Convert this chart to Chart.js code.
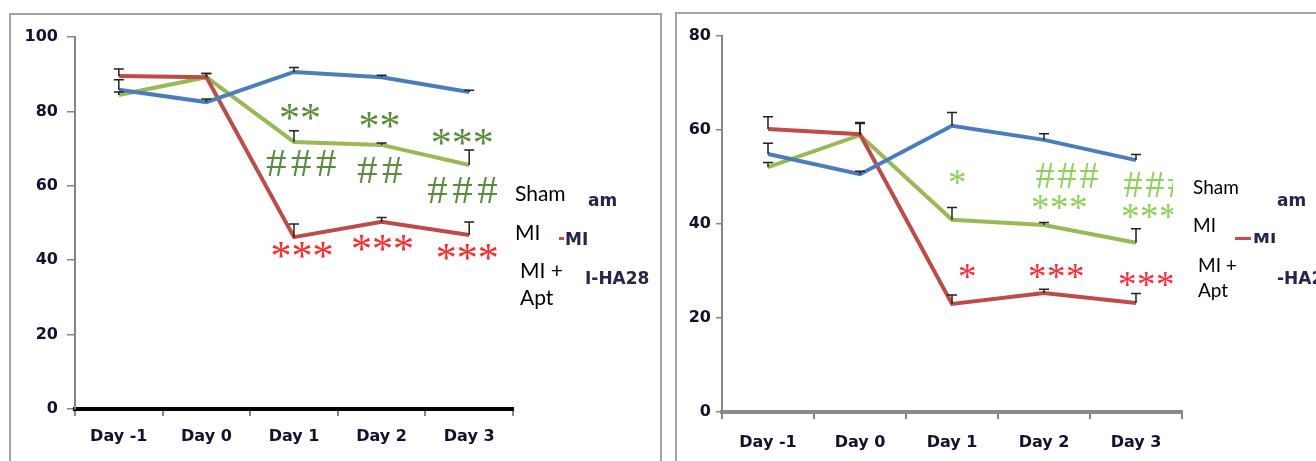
<!DOCTYPE html>
<html>
<head>
<meta charset="utf-8">
<script src="https://cdn.jsdelivr.net/npm/chart.js@4.4.0/dist/chart.umd.min.js"></script>
<style>
  body { margin: 0; background: #fff; width: 1316px; height: 461px; overflow: hidden; position: relative; }
  .panel { position: absolute; border: 2px solid #a3a3a3; border-bottom: none; }
  canvas { position: absolute; top: 0; }
  .lg { position: absolute; color: #000; font-family: Lato, sans-serif; white-space: nowrap; line-height: 1; }
  .frag { position: absolute; font-family: 'DejaVu Sans', sans-serif; font-weight: bold; font-size: 17px;
          color: #25254d; white-space: nowrap; line-height: 1; }
  .cover { position: absolute; background: #fff; }
</style>
</head>
<body>
<div class="panel" style="left:9px;top:13px;width:649px;height:470px;"></div>
<div class="panel" style="left:675px;top:12px;width:700px;height:470px;"></div>

<canvas id="left" width="660" height="461" style="left:0px;"></canvas>
<canvas id="right" width="656" height="461" style="left:660px;"></canvas>

<!-- left legend -->
<div class="lg" style="left:515px;top:182px;font-size:21px;">Sham</div>
<div class="lg" style="left:515px;top:221px;font-size:21px;">MI</div>
<div class="lg" style="left:520px;top:259px;font-size:21px;">MI +</div>
<div class="lg" style="left:520px;top:286px;font-size:21px;">Apt</div>
<div class="frag" style="left:588px;top:192px;">am</div>
<div class="cover" style="left:559px;top:237px;width:5px;height:3px;background:#c0504d;"></div>
<div class="frag" style="left:565px;top:231px;">MI</div>
<div class="frag" style="left:585px;top:270px;">I-HA28</div>

<!-- right legend -->
<div class="cover" style="left:1173px;top:160px;width:100px;height:140px;"></div>
<div class="lg" style="left:1193px;top:177px;font-size:19px;">Sham</div>
<div class="lg" style="left:1193px;top:215px;font-size:19px;">MI</div>
<div class="lg" style="left:1198px;top:255px;font-size:19px;">MI +</div>
<div class="lg" style="left:1198px;top:280px;font-size:19px;">Apt</div>
<div class="frag" style="left:1277px;top:192px;">am</div>
<div class="cover" style="left:1235px;top:237px;width:16px;height:3px;background:#c0504d;"></div>
<div style="position:absolute;left:1253px;top:233px;width:30px;height:10px;overflow:hidden;">
  <div class="frag" style="left:0;top:-2px;">MI</div>
</div>
<div class="frag" style="left:1277px;top:270px;">-HA28</div>

<script>
var days = ['Day -1', 'Day 0', 'Day 1', 'Day 2', 'Day 3'];

// left panel
var shamA = [85.8, 82.5, 90.6, 89.2, 85.2];
var miA   = [89.5, 89.2, 46.2, 50.3, 46.8];
var aptA  = [84.4, 89.2, 71.8, 71.0, 65.6];
var shamAErr = [2.7, 0.8, 1.2, 0.5, 0.5];
var miAErr   = [1.9, 1.0, 3.5, 1.2, 3.5];
var aptAErr  = [0.8, 1.0, 3.0, 0.5, 4.0];

// right panel
var shamB = [54.9, 50.6, 60.9, 57.9, 53.6];
var miB   = [60.2, 59.1, 23.0, 25.3, 23.2];
var aptB  = [52.1, 58.9, 40.9, 39.8, 36.0];
var shamBErr = [2.3, 0.6, 2.8, 1.3, 1.2];
var miBErr   = [2.6, 2.5, 1.9, 0.8, 2.0];
var aptBErr  = [1.0, 2.5, 2.6, 0.5, 3.0];

// significance marks: [day index, value, text, group]
var marksA = [
  [2, 79.8, '**', 'g'], [2, 66.0, '###', 'g'],
  [3, 77.7, '**', 'g'], [3, 64.2, '##', 'g'],
  [4, 73.1, '***', 'g'], [4, 58.9, '###', 'g'],
  [2, 42.7, '***', 'r'], [3, 44.6, '***', 'r'], [4, 42.2, '***', 'r']
];
var marksB = [
  [2, 49.8, '*', 'g'],
  [3, 50.4, '###', 'g'], [3, 44.5, '***', 'g'],
  [4, 48.3, '###', 'g'], [4, 42.6, '***', 'g'],
  [2, 29.8, '*', 'r'], [3, 29.8, '***', 'r'], [4, 28.1, '***', 'r']
];
var marksAShift = [6, 7, -2, -2, -7, -7, 8, 1, -2];
var marksBShift = [5, 23, 15, 19, 13, 15, 12, 10];

var tickFont = { family: 'DejaVu Sans', size: 16, weight: 'bold' };
var tickColor = '#111130';

function errorBars(errs) {
  return {
    id: 'errorBars',
    afterDatasetsDraw: function (chart) {
      var ctx = chart.ctx, y = chart.scales.y;
      ctx.save();
      ctx.strokeStyle = '#222';
      ctx.lineWidth = 1.5;
      chart.data.datasets.forEach(function (ds, d) {
        chart.getDatasetMeta(d).data.forEach(function (pt, i) {
          var top = y.getPixelForValue(ds.data[i] + errs[d][i]);
          ctx.beginPath();
          ctx.moveTo(pt.x, pt.y);
          ctx.lineTo(pt.x, top);
          ctx.moveTo(pt.x - 5, top);
          ctx.lineTo(pt.x + 5, top);
          ctx.stroke();
        });
      });
      ctx.restore();
    }
  };
}

function sigMarks(list, shift, look) {
  return {
    id: 'sigMarks',
    afterDraw: function (chart) {
      var ctx = chart.ctx, xs = chart.scales.x, ys = chart.scales.y;
      ctx.save();
      list.forEach(function (m, k) {
        var cx = xs.getPixelForValue(m[0]) + shift[k];
        var cy = ys.getPixelForValue(m[1]);
        var isHash = m[2].charAt(0) === '#';
        var st = isHash ? look.hash : look.star;
        var n = m[2].length;
        ctx.fillStyle = look.color[m[3]];
        ctx.font = st.size + 'px ' + st.font;
        for (var i = 0; i < n; i++) {
          var ch = m[2].charAt(i);
          var mt = ctx.measureText(ch);
          var w = mt.actualBoundingBoxRight + mt.actualBoundingBoxLeft;
          var px = cx + (i - (n - 1) / 2) * st.pitch;
          var py = cy + (mt.actualBoundingBoxAscent - mt.actualBoundingBoxDescent) / 2;
          ctx.fillText(ch, px - w / 2 + mt.actualBoundingBoxLeft, py);
        }
      });
      ctx.restore();
    }
  };
}

function makeChart(id, series, errs, yMax, box, marks, shift, look) {
  return new Chart(document.getElementById(id), {
    type: 'line',
    data: {
      labels: days,
      datasets: [
        { label: 'Sham', data: series[0], borderColor: '#4a7ebb' },
        { label: 'MI', data: series[1], borderColor: '#be4b48' },
        { label: 'MI + Apt', data: series[2], borderColor: '#98b954' }
      ]
    },
    options: {
      responsive: false,
      animation: false,
      events: [],
      elements: {
        line: { borderWidth: 4, tension: 0, fill: false },
        point: { radius: 0 }
      },
      layout: { padding: box.padding },
      plugins: { legend: { display: false }, tooltip: { enabled: false } },
      scales: {
        x: {
          offset: true,
          grid: { offset: true, drawOnChartArea: false, tickLength: 7, color: '#858585', lineWidth: 2 },
          border: { color: box.xAxisColor, width: 4 },
          ticks: { font: tickFont, color: tickColor, padding: box.xPad, maxRotation: 0 },
          afterFit: function (s) { s.height = 40; }
        },
        y: {
          min: 0,
          max: yMax,
          grid: { drawOnChartArea: false, tickLength: box.yTick, color: '#858585', lineWidth: 1.5 },
          border: { color: '#858585', width: 2 },
          ticks: { stepSize: 20, font: tickFont, color: tickColor, padding: box.yPad },
          afterFit: function (s) { s.width = box.yWidth; }
        }
      }
    },
    plugins: [errorBars(errs), sigMarks(marks, shift, look)]
  });
}

makeChart('left', [shamA, miA, aptA], [shamAErr, miAErr, aptAErr], 100,
  { padding: { left: 20, top: 37, right: 147, bottom: 12 }, yWidth: 55, yTick: 8, yPad: 9, xPad: 11, xAxisColor: '#000' },
  marksA, marksAShift,
  { color: { g: '#5a8c3e', r: '#ff2a2a' },
    hash: { font: 'Liberation Serif', size: 41, pitch: 25 },
    star: { font: 'Liberation Serif', size: 42, pitch: 21 } });

makeChart('right', [shamB, miB, aptB], [shamBErr, miBErr, aptBErr], 80,
  { padding: { left: 12, top: 36, right: 134, bottom: 9 }, yWidth: 50, yTick: 6, yPad: 5, xPad: 14, xAxisColor: '#8a8a8a' },
  marksB, marksBShift,
  { color: { g: '#8fd25a', r: '#ff2a3a' },
    hash: { font: 'Liberation Serif', size: 38, pitch: 22 },
    star: { font: 'Liberation Serif', size: 37, pitch: 19 } });
</script>
</body>
</html>
